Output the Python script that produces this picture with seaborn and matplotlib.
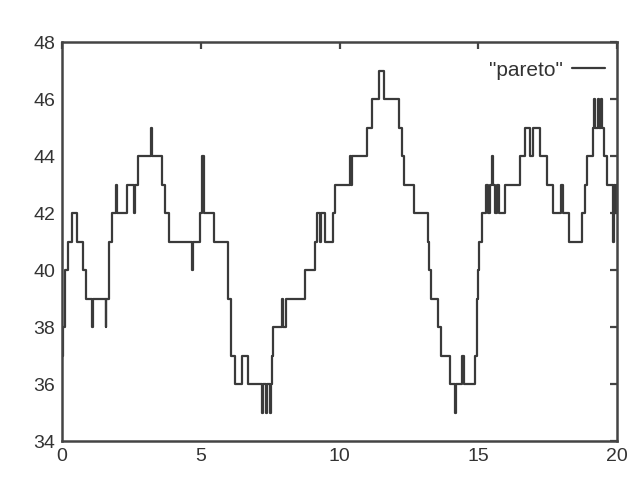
import numpy as np
import pandas as pd
import seaborn as sns
from matplotlib import pyplot as plt

# step changes of the "pareto" run: time where the level starts, and the level
t_start = [0.00, 0.04, 0.10, 0.20, 0.35, 0.53, 0.77, 0.85, 1.07, 1.10,
           1.57, 1.60, 1.71, 1.79, 1.95, 1.98, 2.33, 2.59, 2.62, 2.73,
           3.19, 3.23, 3.62, 3.72, 3.85, 4.67, 4.71, 4.97, 5.05, 5.13,
           5.49, 6.00, 6.08, 6.23, 6.47, 6.71, 7.21, 7.24, 7.36, 7.39,
           7.50, 7.53, 7.56, 7.62, 7.92, 7.97, 8.07, 8.76, 9.12, 9.18,
           9.30, 9.34, 9.48, 9.78, 9.84, 10.38, 10.42, 10.46, 11.00, 11.18,
           11.43, 11.60, 12.16, 12.24, 12.34, 12.70, 13.20, 13.24, 13.30, 13.56,
           13.66, 13.98, 14.16, 14.19, 14.40, 14.50, 14.88, 14.94, 14.99, 15.04,
           15.12, 15.28, 15.36, 15.44, 15.48, 15.52, 15.62, 15.66, 15.74, 15.96,
           16.50, 16.68, 16.86, 16.98, 17.23, 17.47, 17.71, 17.97, 18.07, 18.28,
           18.75, 18.85, 18.91, 19.12, 19.18, 19.22, 19.30, 19.34, 19.42, 19.46,
           19.52, 19.64, 19.86, 19.90, 19.94, 19.97, 20.00]
level = [37, 38, 40, 41, 42, 41, 40, 39, 38, 39,
         38, 39, 41, 42, 43, 42, 43, 42, 43, 44,
         45, 44, 43, 42, 41, 40, 41, 42, 44, 42,
         41, 39, 37, 36, 37, 36, 35, 36, 35, 36,
         35, 36, 37, 38, 39, 38, 39, 40, 41, 42,
         41, 42, 41, 42, 43, 44, 43, 44, 45, 46,
         47, 46, 45, 44, 43, 42, 41, 40, 39, 38,
         37, 36, 35, 36, 37, 36, 37, 39, 40, 41,
         42, 43, 42, 43, 44, 43, 42, 43, 42, 43,
         44, 45, 44, 45, 44, 43, 42, 43, 42, 41,
         42, 43, 44, 45, 46, 45, 46, 45, 46, 45,
         44, 43, 41, 43, 42, 43, 43]

x_ticks = [0, 5, 10, 15, 20]
y_ticks = [34, 36, 38, 40, 42, 44, 46, 48]

df = pd.DataFrame({'t': t_start, 'value': level})

sns.set_style('white')
plt.rcParams['font.family'] = ['Liberation Sans', 'DejaVu Sans']

fig = plt.figure(figsize=(6.43, 4.84), dpi=100)
ax = fig.add_axes([0.0964, 0.0888, 0.8632, 0.8244])

sns.lineplot(data=df, x='t', y='value', ax=ax, estimator=None, sort=False,
             drawstyle='steps-post', color='#3a3a3a', linewidth=1.6,
             label='"pareto"')

ax.set_xlim(0, 20)
ax.set_ylim(34, 48)
ax.set_xticks(x_ticks)
ax.set_yticks(y_ticks)
ax.set_xlabel('')
ax.set_ylabel('')

for s in ax.spines.values():
    s.set_color('#444444')
    s.set_linewidth(1.8)

ax.tick_params(direction='in', length=5, width=1.6, color='#444444',
               top=True, right=True, labelsize=14, labelcolor='#333333', pad=5)

ax.legend(loc='upper right', frameon=False, markerfirst=False, fontsize=15,
          handlelength=1.6, handletextpad=0.4, bbox_to_anchor=(1.012, 1.0),
          labelcolor='#333333')

fig.savefig('out.png', dpi=100, facecolor='white')
